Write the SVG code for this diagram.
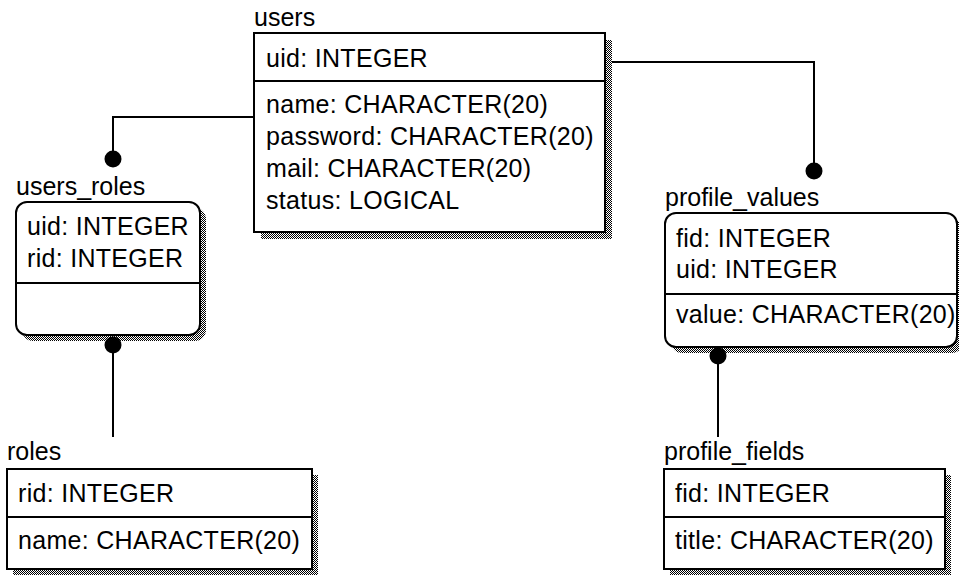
<svg xmlns="http://www.w3.org/2000/svg" width="959" height="575" viewBox="0 0 959 575">
  <defs>
    <!-- dithered drop shadow -->
    <pattern id="dither" width="2" height="2" patternUnits="userSpaceOnUse">
      <rect width="2" height="2" fill="#ffffff"/>
      <rect x="0" y="0" width="1" height="1" fill="#000000"/>
      <rect x="1" y="1" width="1" height="1" fill="#000000"/>
    </pattern>
  </defs>
  <style>
    .box { fill: #ffffff; stroke: #000000; stroke-width: 2; }
    .shadow { fill: url(#dither); stroke: none; }
    .div { stroke: #000000; stroke-width: 2; }
    .title { font-family: "Liberation Sans", Arial, sans-serif; font-size: 25px; fill: #000000; }
    .field { font-family: "Liberation Sans", Arial, sans-serif; font-size: 25px; letter-spacing: 0.3px; fill: #000000; }
    .conn { fill: none; stroke: #000000; stroke-width: 2; }
    .dot { fill: #000000; }
  </style>

  <rect width="959" height="575" fill="#ffffff"/>

  <!-- relationship lines -->
  <g id="connectors">
    <polyline class="conn" points="254,117 113,117 113,159"/>
    <circle class="dot" cx="113" cy="159" r="8.5"/>
    <polyline class="conn" points="605,62 814,62 814,171"/>
    <circle class="dot" cx="814" cy="171" r="8.5"/>
  </g>

  <g id="users">
    <rect class="shadow" x="261" y="40" width="351" height="199"/>
    <rect class="box" x="254" y="33" width="351" height="199"/>
    <line class="div" x1="254" y1="81" x2="605" y2="81"/>
    <text class="title" x="254" y="26">users</text>
    <text class="field" x="266" y="67">uid: INTEGER</text>
    <text class="field" x="266" y="113">name: CHARACTER(20)</text>
    <text class="field" x="266" y="145">password: CHARACTER(20)</text>
    <text class="field" x="266" y="177">mail: CHARACTER(20)</text>
    <text class="field" x="266" y="209">status: LOGICAL</text>
  </g>

  <g id="users_roles">
    <rect class="shadow" x="22" y="208" width="184" height="133" rx="11"/>
    <rect class="box" x="16" y="202" width="184" height="133" rx="11"/>
    <line class="div" x1="16" y1="283" x2="200" y2="283"/>
    <text class="title" x="16" y="195">users_roles</text>
    <text class="field" x="27" y="235">uid: INTEGER</text>
    <text class="field" x="27" y="267">rid: INTEGER</text>
  </g>

  <g id="profile_values">
    <rect class="shadow" x="671" y="219" width="292" height="134" rx="11"/>
    <rect class="box" x="665" y="213" width="292" height="134" rx="11"/>
    <line class="div" x1="665" y1="294" x2="957" y2="294"/>
    <text class="title" x="665" y="206">profile_values</text>
    <text class="field" x="676" y="247">fid: INTEGER</text>
    <text class="field" x="676" y="278">uid: INTEGER</text>
    <text class="field" x="676" y="323">value: CHARACTER(20)</text>
  </g>

  <g id="roles">
    <rect class="shadow" x="13" y="475" width="305" height="100"/>
    <rect class="box" x="7" y="469" width="305" height="100"/>
    <line class="div" x1="7" y1="517" x2="312" y2="517"/>
    <text class="title" x="7" y="460">roles</text>
    <text class="field" x="18" y="502">rid: INTEGER</text>
    <text class="field" x="18" y="549">name: CHARACTER(20)</text>
  </g>

  <g id="profile_fields">
    <rect class="shadow" x="670" y="475" width="281" height="100"/>
    <rect class="box" x="664" y="469" width="281" height="100"/>
    <line class="div" x1="664" y1="517" x2="945" y2="517"/>
    <text class="title" x="664" y="460">profile_fields</text>
    <text class="field" x="675" y="502">fid: INTEGER</text>
    <text class="field" x="675" y="549">title: CHARACTER(20)</text>
  </g>

  <!-- lines leaving the bottom of the link tables, drawn over their shadows -->
  <g id="connectors-lower">
    <line class="conn" x1="113" y1="345" x2="113" y2="437"/>
    <circle class="dot" cx="113" cy="345" r="8.5"/>
    <line class="conn" x1="718" y1="356" x2="718" y2="437"/>
    <circle class="dot" cx="718" cy="356" r="8.5"/>
  </g>
</svg>
